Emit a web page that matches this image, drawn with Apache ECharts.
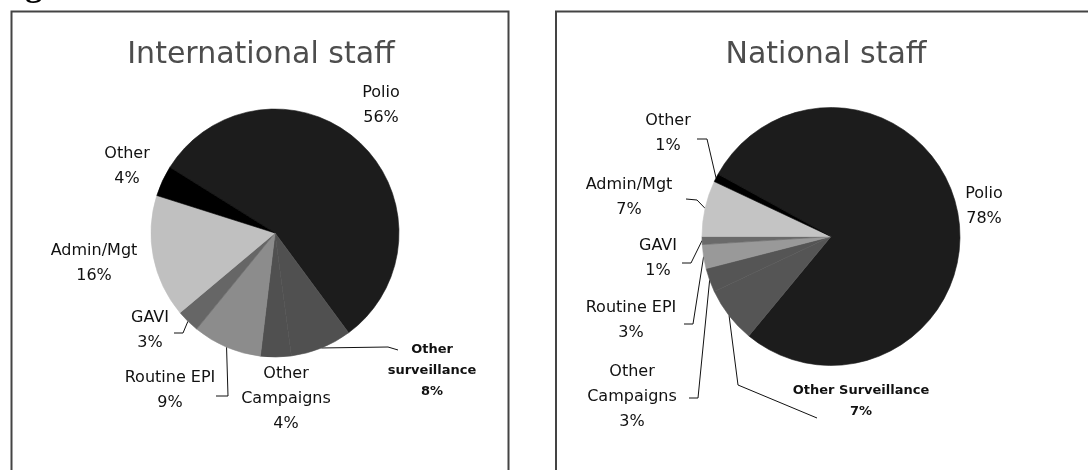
<!DOCTYPE html>
<html><head><meta charset="utf-8">
<script src="https://cdn.jsdelivr.net/npm/echarts@6/dist/echarts.min.js"></script>
<style>html,body{margin:0;padding:0;background:#fff}#c{width:1088px;height:470px}</style>
</head><body><div id="c"></div>
<script>
// ---- data ----
const categories = ['Polio', 'Other surveillance', 'Other Campaigns', 'Routine EPI', 'GAVI', 'Admin/Mgt', 'Other'];
const intlValues = [56, 8, 4, 9, 3, 16, 4];
const natValues = [78, 7, 3, 3, 1, 7, 1];
const intlLabels = ['Polio', 'Other\nsurveillance', 'Other\nCampaigns', 'Routine EPI', 'GAVI', 'Admin/Mgt', 'Other'];
const natLabels = ['Polio', 'Other Surveillance', 'Other\nCampaigns', 'Routine EPI', 'GAVI', 'Admin/Mgt', 'Other'];
const titles = ['International staff', 'National staff'];

// ---- styles ----
const intlColors = ['#1c1c1c', '#505050', '#505050', '#8c8c8c', '#666666', '#c0c0c0', '#000000'];
const natColors = ['#1c1c1c', '#555555', '#555555', '#999999', '#6a6a6a', '#c4c4c4', '#000000'];

// ---- label layout (label centre + leader elbow/end) ----
const intlLayout = [
  {x: 381, y: 105},
  {x: 432, y: 371, small: true, line: [[388, 347], [398, 350]]},
  {x: 286, y: 399},
  {x: 170, y: 390, line: [[228, 396], [216, 396]]},
  {x: 150, y: 330, line: [[183, 333], [174, 333]]},
  {x: 94, y: 263},
  {x: 127, y: 166}
];
const natLayout = [
  {x: 984, y: 206},
  {x: 861, y: 401, small: true, line: [[738, 385], [817, 418]]},
  {x: 632, y: 397, line: [[698, 398], [689, 398]]},
  {x: 631, y: 320, line: [[693, 324], [684, 324]]},
  {x: 658, y: 258, line: [[691, 263], [682, 263]]},
  {x: 629, y: 197, line: [[697, 200], [686, 199]]},
  {x: 668, y: 133, line: [[707, 139], [697, 139]]}
];

function makeLayout(layout) {
  return function (p) {
    const L = layout[p.dataIndex];
    const out = {x: L.x, y: L.y, align: 'center', verticalAlign: 'middle', hideOverlap: false, moveOverlap: null};
    if (L.line && p.labelLinePoints && p.labelLinePoints.length) {
      const e = p.labelLinePoints[0];
      out.labelLinePoints = [[e[0], e[1]], L.line[0], L.line[1]];
    }
    return out;
  };
}

function makeSeries(values, labels, colors, layout, center, radius, startAngle) {
  return {
    type: 'pie',
    center: center,
    radius: radius,
    startAngle: startAngle,
    clockwise: true,
    avoidLabelOverlap: false,
    silent: true,
    animation: false,
    emphasis: {disabled: true},
    label: {
      show: true, position: 'outside', color: '#111',
      fontFamily: 'DejaVu Sans', fontSize: 16, lineHeight: 25,
      formatter: function (p) { return labels[p.dataIndex] + '\n' + p.value + '%'; }
    },
    labelLine: {show: true, length: 10, length2: 10, smooth: false, lineStyle: {color: '#111', width: 1}},
    labelLayout: makeLayout(layout),
    data: categories.map(function (n, i) {
      const d = {name: n, value: values[i],
        itemStyle: {color: colors[i], borderColor: colors[i], borderWidth: 0.6},
        labelLine: {show: !!layout[i].line}};
      if (layout[i].small) d.label = {fontSize: 13, fontWeight: 'bold', lineHeight: 21};
      return d;
    })
  };
}

const chart = echarts.init(document.getElementById('c'), null, {renderer: 'canvas'});
chart.setOption({
  backgroundColor: '#ffffff',
  animation: false,
  graphic: [
    {type: 'rect', shape: {x: 11.5, y: 11.5, width: 497, height: 480}, style: {fill: 'none', stroke: '#444', lineWidth: 2}, silent: true},
    {type: 'rect', shape: {x: 556, y: 11.5, width: 560, height: 480}, style: {fill: 'none', stroke: '#444', lineWidth: 2}, silent: true},
    {type: 'text', x: -5, y: 4, style: {text: 'Fig', font: 'bold 34px "Liberation Serif"', fill: '#000', verticalAlign: 'bottom'}, silent: true},
    {type: 'text', x: 261, y: 55, style: {text: titles[0], font: '30px "DejaVu Sans"', fill: '#4d4d4d', align: 'center', verticalAlign: 'middle'}, silent: true},
    {type: 'text', x: 826, y: 55, style: {text: titles[1], font: '30px "DejaVu Sans"', fill: '#4d4d4d', align: 'center', verticalAlign: 'middle'}, silent: true}
  ],
  series: [
    makeSeries(intlValues, intlLabels, intlColors, intlLayout, [275, 233], 124, 148),
    makeSeries(natValues, natLabels, natColors, natLayout, [831, 236.5], 129, 151.2)
  ]
});
</script>
</body></html>
